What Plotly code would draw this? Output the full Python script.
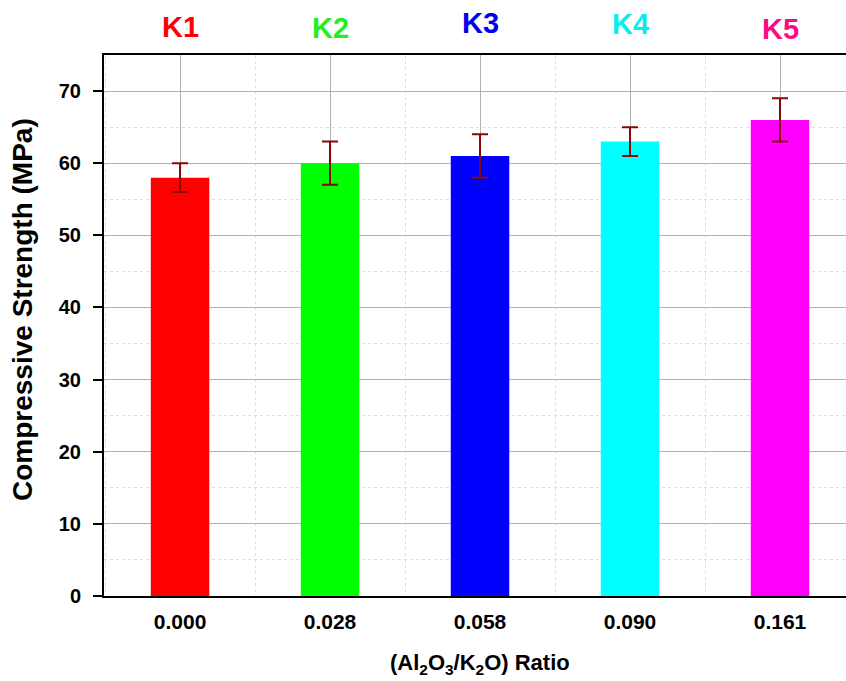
import plotly.graph_objects as go

categories = ["0.000", "0.028", "0.058", "0.090", "0.161"]
labels = ["K1", "K2", "K3", "K4", "K5"]
strength = [58, 60, 61, 63, 66]
error = [2, 3, 3, 2, 3]

bar_colors = ["#ff0000", "#00ff00", "#0000ff", "#00ffff", "#ff00ff"]
label_colors = ["#ff0000", "#22ee22", "#0000ee", "#00f0f0", "#ff0a80"]
label_y = [27, 28, 23, 24, 29]  # pixel centres of the K labels

xpos = list(range(len(categories)))
font_family = "Liberation Sans"
plot_top, plot_bottom = 55, 596
plot_h = plot_bottom - plot_top

fig = go.Figure()
fig.add_trace(go.Bar(
    x=xpos, y=strength, width=0.39,
    marker=dict(color=bar_colors, line=dict(width=0)),
    error_y=dict(type="data", array=error, color="#880808", thickness=2, width=8),
))

for i, (lab, col, ly) in enumerate(zip(labels, label_colors, label_y)):
    fig.add_annotation(x=i, xref="x", y=1 + (plot_top - ly) / plot_h, yref="paper",
                       yanchor="middle", text=lab, showarrow=False,
                       font=dict(family=font_family, size=29, color=col, weight="bold"))

# axis titles
fig.add_annotation(x=2, xref="x", y=-(664 - plot_bottom) / plot_h, yref="paper",
                   yanchor="middle", showarrow=False,
                   text="(Al<sub>2</sub>O<sub>3</sub>/K<sub>2</sub>O) Ratio",
                   font=dict(family=font_family, size=22, weight="bold", color="black"))
fig.add_annotation(x=-(104 - 22) / 742, xref="paper", y=1 - (310 - plot_top) / plot_h, yref="paper",
                   xanchor="center", yanchor="middle", showarrow=False, textangle=-90,
                   text="Compressive Strength (MPa)",
                   font=dict(family=font_family, size=28, weight="bold", color="black"))

fig.update_layout(
    width=846, height=681,
    margin=dict(l=104, r=0, t=plot_top, b=681 - plot_bottom),
    plot_bgcolor="white", paper_bgcolor="white",
    showlegend=False,
    font=dict(family=font_family, color="black"),
    xaxis=dict(
        range=[-0.507, 4.44], tickmode="array", tickvals=xpos, ticktext=categories,
        showline=True, linecolor="black", linewidth=2, mirror=True,
        showgrid=True, gridcolor="#b0b0b0", gridwidth=1,
        ticks="", ticklabelstandoff=6, automargin=False,
        tickfont=dict(size=21, weight="bold", family=font_family),
        minor=dict(dtick=0.5, tick0=0.5, showgrid=True, gridcolor="#dddddd", griddash="dot", gridwidth=1),
        zeroline=False,
    ),
    yaxis=dict(
        range=[0, 75], tickmode="array", tickvals=[0, 10, 20, 30, 40, 50, 60, 70],
        showline=True, linecolor="black", linewidth=2,
        ticks="outside", ticklen=9, tickwidth=2, tickcolor="black",
        ticklabelstandoff=8, automargin=False,
        showgrid=True, gridcolor="#b0b0b0", gridwidth=1,
        tickfont=dict(size=20, weight="bold", family=font_family),
        minor=dict(dtick=5, showgrid=True, gridcolor="#dddddd", griddash="dot", gridwidth=1),
        zeroline=False,
    ),
)

fig.write_html("out.html", config={"displayModeBar": False},
               post_script="document.body.style.margin='0';document.body.style.overflow='hidden';")
